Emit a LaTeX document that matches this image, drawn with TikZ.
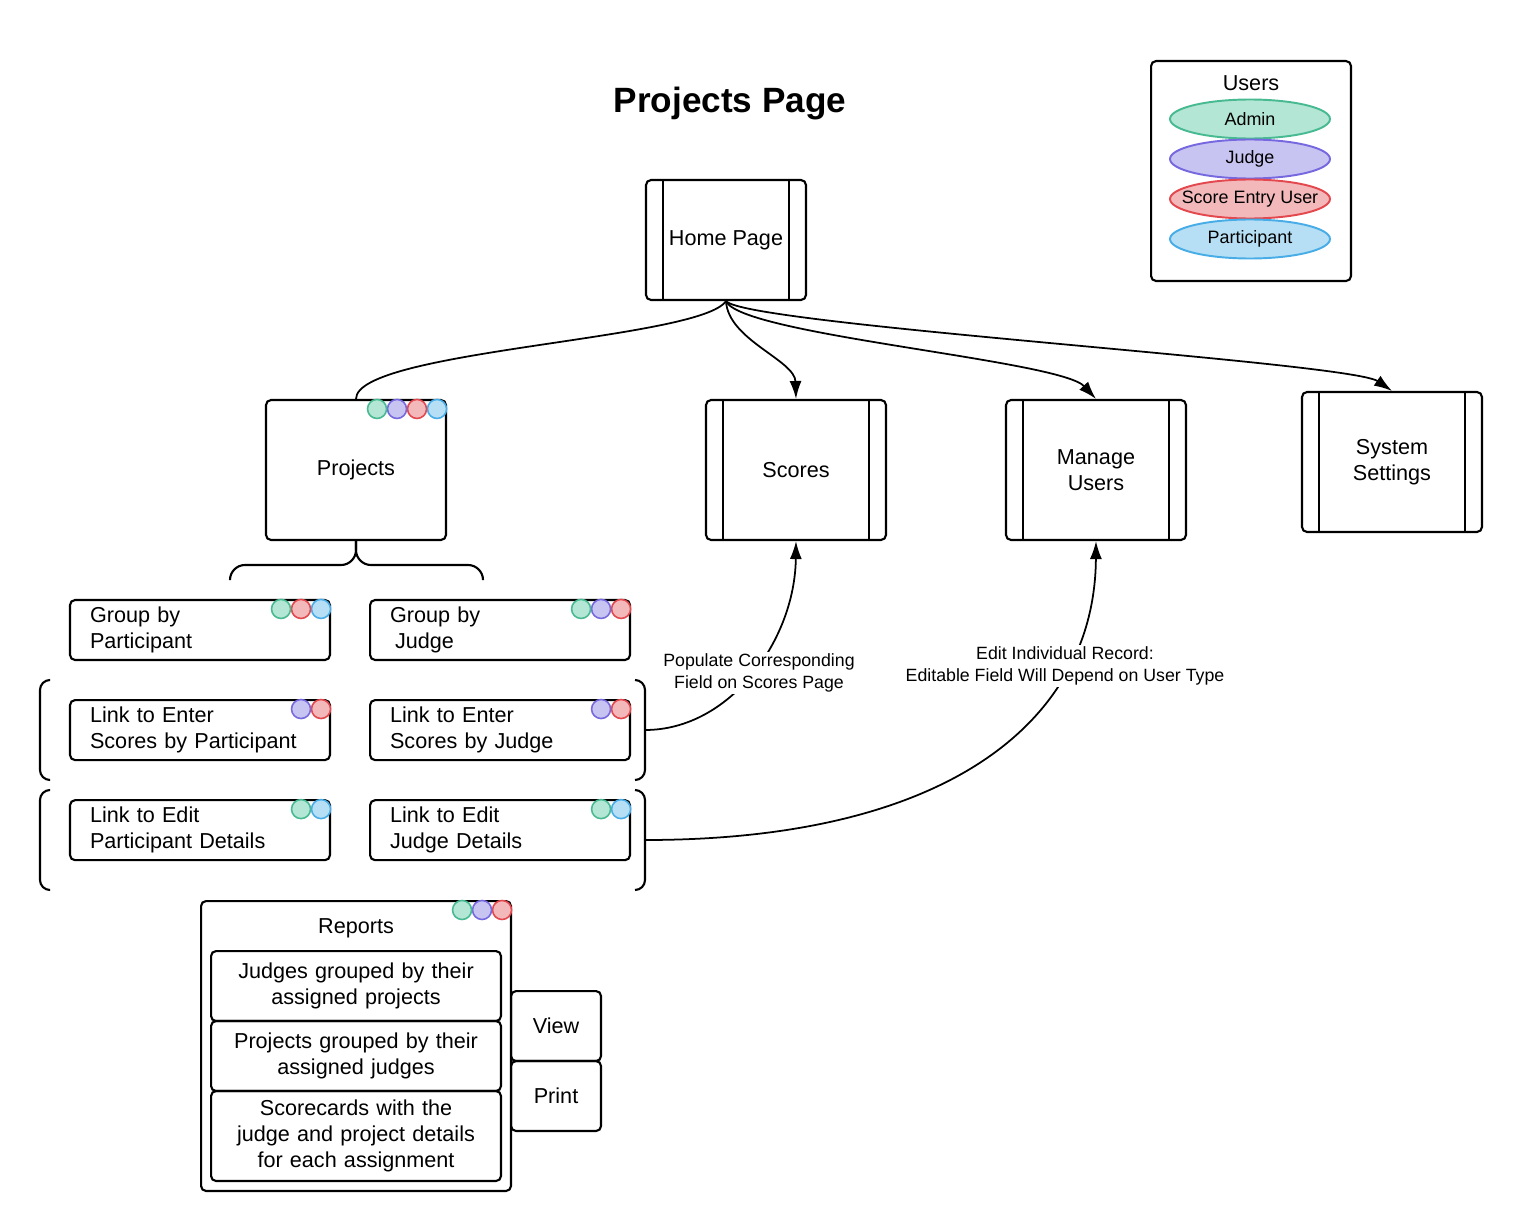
\documentclass[tikz,border=0pt]{standalone}
\usepackage{fontspec}
\setmainfont{Liberation Sans}
\usepackage{tikz}
\usetikzlibrary{shapes.geometric,arrows.meta,positioning,calc}
\definecolor{adminline}{RGB}{72,186,145}
\definecolor{adminfill}{RGB}{180,230,214}
\definecolor{judgeline}{RGB}{118,104,222}
\definecolor{judgefill}{RGB}{200,196,242}
\definecolor{scorerline}{RGB}{226,72,78}
\definecolor{scorerfill}{RGB}{243,185,186}
\definecolor{partline}{RGB}{72,172,230}
\definecolor{partfill}{RGB}{182,223,245}

% user dots in the top right corner of a box, listed right to left
\newcommand{\roledots}[2]{%
    \foreach \role [count=\k from 0] in {#2}
        \node[role=\role] (#1-\role) at ($(#1.north east)+(-10-20*\k,10)$) {};}

\begin{document}
\begin{tikzpicture}[
        x=0.02cm, y=-0.02cm,
        font=\fontsize{12.3}{14.8}\selectfont,
        box/.style={rectangle, rounded corners=0.1cm, draw, line width=1.2pt},
        page/.style={box, minimum width=3.6cm, minimum height=2.8cm, align=center,
            path picture={
                \draw[line width=1.2pt] ([xshift=0.34cm]path picture bounding box.north west) -- ([xshift=0.34cm]path picture bounding box.south west);
                \draw[line width=1.2pt] ([xshift=-0.34cm]path picture bounding box.north east) -- ([xshift=-0.34cm]path picture bounding box.south east);}},
        link/.style={box, minimum width=5.2cm, minimum height=1.2cm,
            text width=4.4cm, inner xsep=0.4cm, inner ysep=0.05cm, align=left},
        report/.style={box, minimum width=5.8cm, minimum height=1.4cm,
            text width=5.6cm, inner xsep=0.1cm, inner ysep=0.05cm, align=center},
        role/.style={circle, draw=#1line, fill=#1fill, line width=0.9pt,
            minimum size=0.38cm, inner sep=0pt},
        user/.style={ellipse, draw=#1line, fill=#1fill, line width=1.1pt,
            minimum width=3.2cm, minimum height=0.78cm, inner xsep=-0.5cm, inner ysep=0pt,
            font=\fontsize{10.2}{12}\selectfont},
        conn/.style={line width=1pt},
        arr/.style={-{Latex[length=0.36cm, width=0.24cm]}},
        brk/.style={line width=1.2pt, rounded corners=0.2cm},
        lbl/.style={font=\fontsize{10.1}{12.5}\selectfont, align=center, fill=white, inner sep=1pt}
    ]
    \useasboundingbox (0,0) rectangle (1522,1230);

    \node[font=\bfseries\fontsize{20}{24}\selectfont] (title) at (730,103) {Projects Page};

    % legend
    \node[box, minimum width=4cm, minimum height=4.4cm, anchor=north west,
        label={[anchor=north, yshift=-0.18cm]north:Users}] (users) at (1150,60) {};
    \node[user=admin] (admin) at (1250,119) {Admin};
    \node[user=judge] (judge) at (1250,159) {Judge};
    \node[user=scorer] (scorer) at (1250,199) {Score Entry User};
    \node[user=part] (part) at (1250,239) {Participant};

    % pages
    \node[page, minimum width=3.2cm, minimum height=2.4cm] (home) at (726,240) {Home Page};
    \node[box, minimum width=3.6cm, minimum height=2.8cm] (proj) at (356,470) {Projects};
    \node[page] (scores) at (796,470) {Scores};
    \node[page] (manage) at (1096,470) {Manage\\Users};
    \node[page] (settings) at (1392,462) {System\\Settings};

    % project links
    \node[link] (grpP) at (200,630) {Group by\\Participant};
    \node[link, right=0.76cm of grpP] (grpJ) {Group by\\\hspace{0.1cm}Judge};
    \node[link, below=0.76cm of grpP] (enterP) {Link to Enter\\Scores by Participant};
    \node[link, below=0.76cm of grpJ] (enterJ) {Link to Enter\\Scores by Judge};
    \node[link, below=0.76cm of enterP] (editP) {Link to Edit\\Participant Details};
    \node[link, below=0.76cm of enterJ] (editJ) {Link to Edit\\Judge Details};

    \draw[brk] (50,680) -| (40,780) -- (50,780);
    \draw[brk] (635,680) -| (645,780) -- (635,780);
    \draw[brk] (50,790) -| (40,890) -- (50,890);
    \draw[brk] (635,790) -| (645,890) -- (635,890);
    \coordinate (scoreBrk) at (645,730);
    \coordinate (editBrk) at (645,840);

    \draw[line width=1.2pt, rounded corners=0.3cm] (230,580) |- (356,565) -- (proj.south);
    \draw[line width=1.2pt, rounded corners=0.3cm] (483,580) |- (356,565) -- (proj.south);

    % reports
    \node[box, minimum width=6.2cm, minimum height=5.8cm, anchor=north west,
        label={[anchor=north, yshift=-0.24cm]north:Reports}] (reports) at (200,900) {};
    \node[report, anchor=north west] (repJ) at (210,950) {Judges grouped by their\\assigned projects};
    \node[report, below=-1.2pt of repJ] (repP) {Projects grouped by their\\assigned judges};
    \node[report, below=-1.2pt of repP, minimum height=1.8cm] (repS) {Scorecards with the\\judge and project details\\for each assignment};
    \node[box, minimum width=1.8cm, minimum height=1.4cm, anchor=north west] (view) at (510,990) {View};
    \node[box, minimum width=1.8cm, minimum height=1.4cm, below=-1.2pt of view] (print) {Print};

    % who can see what
    \roledots{proj}{part,scorer,judge,admin}
    \roledots{grpP}{part,scorer,admin}
    \roledots{grpJ}{scorer,judge,admin}
    \roledots{enterP}{scorer,judge}
    \roledots{enterJ}{scorer,judge}
    \roledots{editP}{part,admin}
    \roledots{editJ}{part,admin}
    \roledots{reports}{scorer,judge,admin}

    \draw[conn] (home.south) .. controls (700,340) and (356,350) .. (proj.north);
    \draw[conn, arr] (home.south) .. controls (728,340) and (795,360) .. (scores.north);
    \draw[conn, arr] (home.south) .. controls (740,335) and (1060,360) .. (manage.north);
    \draw[conn, arr] (home.south) .. controls (745,325) and (1350,362) .. (settings.north);

    \draw[conn, arr] (scoreBrk) .. controls (730,730) and (795,640) .. node[lbl, xshift=0.14cm] {Populate Corresponding\\Field on Scores Page} (scores.south);
    \draw[conn, arr] (editBrk) .. controls (950,840) and (1095,720) .. node[lbl, pos=0.75, xshift=-0.06cm, yshift=-0.06cm] {Edit Individual Record:\\Editable Field Will Depend on User Type} (manage.south);
\end{tikzpicture}
\end{document}
